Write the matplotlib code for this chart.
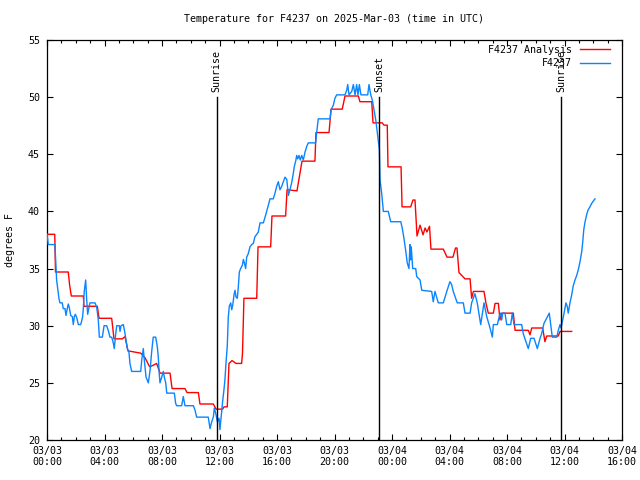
import matplotlib
matplotlib.use("Agg")
import matplotlib.pyplot as plt
from matplotlib.ticker import MultipleLocator

# ---- data (hours since 2025-03-03 00:00 UTC, degrees F) ----
analysis_hours = [0.0, 0.54, 0.59, 1.48, 1.57, 1.69, 2.53, 2.57, 3.5, 3.62, 4.5, 4.66, 5.24, 5.43,
                  5.63, 6.52, 6.82, 7.1, 7.17, 7.63, 7.86, 8.56, 8.7, 9.6, 9.74, 10.53, 10.64, 11.57,
                  11.76, 12.22, 12.31, 12.54, 12.66, 12.87, 13.15, 13.54, 13.6, 13.7, 14.59, 14.68,
                  15.56, 15.65, 16.6, 16.7, 17.39, 17.74, 18.64, 18.71, 19.62, 19.76, 20.54, 20.73,
                  21.66, 21.77, 22.59, 22.68, 23.32, 23.44, 23.67, 23.72, 24.63, 24.7, 25.3, 25.46,
                  25.6, 25.74, 25.95, 26.16, 26.3, 26.43, 26.61, 26.71, 27.57, 27.83, 28.24, 28.42,
                  28.52, 28.66, 29.08, 29.43, 29.54, 29.66, 30.4, 30.54, 30.7, 31.05, 31.17, 31.4,
                  31.51, 31.63, 32.44, 32.56, 33.48, 33.6, 33.72, 34.48, 34.64, 34.76, 35.57, 35.69,
                  36.5]
analysis_temp = [38.0, 38.0, 34.7, 34.7, 33.6, 32.6, 32.6, 31.7, 31.7, 30.65, 30.65, 28.85, 28.85,
                 29.05, 27.8, 27.6, 27.2, 26.5, 26.4, 26.7, 25.85, 25.85, 24.5, 24.5, 24.15, 24.15,
                 23.15, 23.15, 22.7, 22.7, 22.9, 22.9, 26.7, 26.95, 26.7, 26.7, 27.6, 32.4, 32.4,
                 36.9, 36.9, 39.6, 39.6, 41.9, 41.8, 44.4, 44.4, 46.9, 46.9, 48.95, 48.95, 50.1,
                 50.1, 49.6, 49.6, 47.75, 47.75, 47.55, 47.55, 43.9, 43.9, 40.4, 40.4, 41.0, 41.0,
                 37.85, 38.8, 37.95, 38.55, 38.2, 38.7, 36.7, 36.7, 36.0, 36.0, 36.8, 36.8, 34.65,
                 34.1, 34.1, 32.4, 33.0, 33.0, 31.95, 31.1, 31.1, 31.95, 31.95, 30.5, 31.1, 31.1,
                 29.6, 29.6, 29.2, 29.8, 29.8, 28.6, 29.1, 29.1, 29.5, 29.5]

obs_hours = [0.0, 0.09, 0.56, 0.57, 0.61, 0.67, 0.74, 0.83, 0.9, 1.06, 1.13, 1.25, 1.32, 1.41, 1.48,
             1.55, 1.65, 1.76, 1.83, 1.9, 1.97, 2.07, 2.18, 2.34, 2.41, 2.48, 2.53, 2.59, 2.69, 2.76,
             2.83, 2.92, 2.99, 3.34, 3.46, 3.57, 3.64, 3.85, 3.97, 4.15, 4.26, 4.38, 4.5, 4.61, 4.68,
             4.78, 4.85, 5.03, 5.08, 5.15, 5.31, 5.43, 5.5, 5.59, 5.7, 5.77, 5.89, 6.52, 6.59, 6.7,
             6.77, 6.89, 7.05, 7.17, 7.28, 7.39, 7.56, 7.67, 7.74, 7.81, 7.86, 7.98, 8.09, 8.16,
             8.26, 8.33, 8.86, 8.95, 9.02, 9.37, 9.48, 9.6, 10.18, 10.3, 10.41, 11.22, 11.34, 11.46,
             11.57, 11.64, 11.76, 11.85, 11.97, 12.03, 12.1, 12.22, 12.31, 12.38, 12.45, 12.54,
             12.61, 12.68, 12.78, 12.85, 12.92, 13.01, 13.08, 13.15, 13.24, 13.31, 13.38, 13.47,
             13.59, 13.66, 13.73, 13.82, 13.89, 14.0, 14.12, 14.24, 14.35, 14.47, 14.59, 14.7,
             14.82, 15.05, 15.17, 15.28, 15.39, 15.51, 15.74, 15.86, 15.98, 16.09, 16.21, 16.33,
             16.44, 16.56, 16.68, 16.79, 16.9, 17.02, 17.13, 17.2, 17.3, 17.37, 17.44, 17.53,
             17.62, 17.72, 17.83, 17.95, 18.07, 18.18, 18.69, 18.76, 18.87, 19.69, 19.76, 19.92,
             20.03, 20.15, 20.73, 20.85, 20.92, 21.01, 21.2, 21.31, 21.43, 21.54, 21.63, 21.73,
             21.84, 22.31, 22.4, 22.52, 22.63, 22.77, 22.87, 22.96, 23.05, 23.12, 23.17, 23.28,
             23.4, 23.74, 23.91, 24.61, 24.72, 24.83, 24.95, 25.06, 25.18, 25.25, 25.3, 25.34,
             25.44, 25.65, 25.72, 25.95, 26.07, 26.76, 26.87, 26.99, 27.22, 27.57, 27.69, 27.81,
             28.03, 28.15, 28.26, 28.54, 28.96, 29.08, 29.43, 29.54, 29.77, 29.93, 30.17, 30.4,
             30.59, 30.82, 30.98, 31.05, 31.33, 31.46, 31.56, 31.63, 31.7, 31.86, 31.98, 32.26,
             32.37, 32.49, 33.02, 33.13, 33.32, 33.48, 33.65, 33.88, 34.11, 34.3, 34.41, 34.57,
             34.94, 35.04, 35.15, 35.46, 35.57, 35.69, 35.76, 35.97, 36.1, 36.19, 36.26, 36.38,
             36.5, 36.61, 36.73, 36.85, 36.96, 37.08, 37.2, 37.27, 37.34, 37.43, 37.54, 37.63,
             37.77, 37.89, 38.0, 38.12]
obs_temp = [38.0, 37.1, 37.1, 36.6, 35.5, 34.0, 33.3, 32.4, 32.0, 32.0, 31.5, 31.5, 30.9, 31.5, 31.9,
            31.6, 30.9, 30.8, 30.1, 30.8, 31.0, 30.7, 30.1, 30.1, 30.4, 30.8, 31.6, 33.0, 34.0, 32.3,
            31.0, 31.6, 32.0, 32.0, 31.6, 30.5, 29.0, 29.0, 30.0, 30.0, 29.6, 29.0, 29.0, 28.5, 28.0,
            29.3, 30.0, 30.0, 29.5, 30.0, 30.1, 29.3, 28.7, 28.0, 27.7, 26.7, 26.0, 26.0, 27.0, 28.0,
            27.0, 25.5, 25.0, 26.1, 27.7, 29.0, 29.0, 28.2, 27.3, 25.8, 25.0, 25.5, 26.0, 25.5,
            25.0, 24.1, 24.1, 23.2, 23.0, 23.0, 23.8, 23.0, 23.0, 22.6, 22.0, 22.0, 21.0, 21.6,
            22.0, 22.8, 22.2, 21.6, 21.9, 20.9, 21.8, 23.4, 24.4, 25.3, 26.7, 28.2,
            30.7, 31.7, 32.0, 31.4, 31.8, 32.7, 33.1, 32.5, 32.4, 33.4, 34.7, 35.0,
            35.3, 35.8, 35.5, 35.0, 36.0, 36.3, 36.9, 37.1, 37.2, 37.8, 38.0, 38.2,
            39.0, 39.0, 39.5, 40.0, 40.5, 41.1, 41.1, 41.6, 42.2, 42.6, 41.9, 42.2,
            42.6, 43.0, 42.8, 41.4, 41.9, 42.5, 43.3, 43.9, 44.4, 44.9, 44.6, 44.9,
            44.5, 44.9, 44.5, 45.2, 45.7, 46.0, 46.0, 46.9, 48.1, 48.1, 48.9, 49.3,
            49.9, 50.2, 50.2, 50.6, 51.1, 50.2, 50.5, 51.1, 50.2, 51.1, 50.2, 51.1,
            50.2, 50.2, 51.1, 50.2, 49.75, 48.7, 48.0, 47.1, 46.1, 45.4, 42.75, 41.6,
            40.0, 40.0, 39.1, 39.1, 38.5, 37.65, 36.6, 35.5, 35.0, 37.1, 35.75, 36.9,
            35.0, 35.0, 34.3, 34.0, 33.1, 33.0, 32.1, 33.0, 32.0, 32.0, 32.5, 33.0,
            33.85, 33.6, 33.0, 32.0, 32.0, 31.1, 31.1, 32.0, 32.8, 32.0, 30.1, 32.0,
            30.8, 29.8, 29.0, 30.1, 30.1, 30.8, 31.1, 30.5, 31.1, 31.1, 30.1, 30.1,
            31.1, 30.1, 30.1, 29.3, 28.6, 28.0, 28.9, 28.9, 28.0, 28.9, 29.3, 30.2,
            31.1, 30.1, 29.0, 29.0, 29.6, 30.1, 29.8, 31.1, 32.0, 31.7, 31.1, 32.0,
            32.7, 33.5, 34.0, 34.4, 34.9, 35.6, 36.5, 37.35, 38.4, 39.1, 39.7, 40.1,
            40.4, 40.7, 40.9, 41.1]

sun_events = ["Sunrise", "Sunset", "Sunrise"]
sun_hours = [11.8, 23.12, 35.79]

xtick_hours = [0, 4, 8, 12, 16, 20, 24, 28, 32, 36, 40]
xtick_labels = ["03/03\n00:00", "03/03\n04:00", "03/03\n08:00", "03/03\n12:00", "03/03\n16:00",
                "03/03\n20:00", "03/04\n00:00", "03/04\n04:00", "03/04\n08:00", "03/04\n12:00",
                "03/04\n16:00"]

FONT = "DejaVu Sans Mono"
FS = 7.2

fig = plt.figure(figsize=(6.4, 4.8), dpi=100)
ax = fig.add_axes([47 / 640, 1 - 440 / 480, (622 - 47) / 640, 400 / 480])

ax.plot(analysis_hours, analysis_temp, color="#ff0000", lw=1.0, label="F4237 Analysis", zorder=3)
ax.plot(obs_hours, obs_temp, color="#0a84ff", lw=1.0, label="F4237", zorder=3)

for name, h in zip(sun_events, sun_hours):
    ax.plot([h, h], [20, 50], color="black", lw=1.0, zorder=4)
    ax.text(h, 50.45, name, rotation=90, ha="center", va="bottom",
            fontsize=FS, family=FONT, zorder=5)

ax.set_xlim(0, 40)
ax.set_ylim(20, 55)
ax.set_xticks(xtick_hours)
ax.set_xticklabels(xtick_labels, fontsize=FS, family=FONT)
ax.xaxis.set_minor_locator(MultipleLocator(1))
ax.yaxis.set_major_locator(MultipleLocator(5))
for lab in ax.get_yticklabels():
    lab.set_fontsize(FS)
    lab.set_family(FONT)
ax.tick_params(which="both", direction="in", top=True, right=True, width=0.8, color="black")
ax.tick_params(which="major", length=4, pad=4)
ax.tick_params(axis="y", which="major", pad=5)
ax.tick_params(which="minor", length=2)
for s in ax.spines.values():
    s.set_linewidth(0.9)

leg = ax.legend(loc="upper right", bbox_to_anchor=(0.99, 1.003), frameon=False,
                markerfirst=False, handlelength=3.0, handletextpad=0.8,
                labelspacing=0.35, prop={"family": FONT, "size": FS}, borderaxespad=0.2)

fig.text(334 / 640, 1 - 19 / 480, "Temperature for F4237 on 2025-Mar-03 (time in UTC)",
         ha="center", va="center", fontsize=FS, family=FONT)
fig.text(10 / 640, 0.5, "degrees F", rotation=90, ha="center", va="center",
         fontsize=FS, family=FONT)

fig.savefig("out.png", dpi=100)
